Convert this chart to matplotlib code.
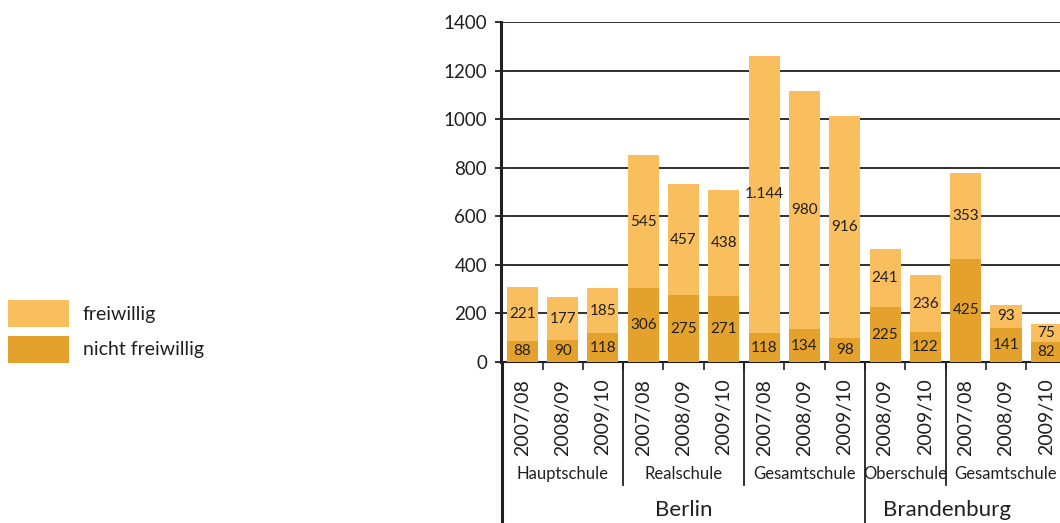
import matplotlib.pyplot as plt
import matplotlib.transforms as mtransforms
from matplotlib.patches import Patch
import numpy as np

plt.rcParams['font.family'] = ['Lato', 'DejaVu Sans']

# data
years = ['2007/08', '2008/09', '2009/10',
         '2007/08', '2008/09', '2009/10',
         '2007/08', '2008/09', '2009/10',
         '2008/09', '2009/10',
         '2007/08', '2008/09', '2009/10']
nicht_freiwillig = [88, 90, 118, 306, 275, 271, 118, 134, 98, 225, 122, 425, 141, 82]
freiwillig = [221, 177, 185, 545, 457, 438, 1144, 980, 916, 241, 236, 353, 93, 75]
school_types = ['Hauptschule', 'Realschule', 'Gesamtschule', 'Oberschule', 'Gesamtschule']
group_sizes = [3, 3, 3, 2, 3]
regions = ['Berlin', 'Brandenburg']

light = '#f9be5e'
dark = '#e4a22c'
ink = '#231f20'


def fmt(v):
    return f'{v:,}'.replace(',', '.')


fig = plt.figure(figsize=(10.6, 5.23), dpi=100)
ax = fig.add_axes([501 / 1060, 1 - 362 / 523, 1 - 501 / 1060, 340 / 523])

x = np.arange(len(years))
w = 0.77
ax.bar(x, nicht_freiwillig, w, color=dark, zorder=3)
ax.bar(x, freiwillig, w, bottom=nicht_freiwillig, color=light, zorder=3)

for xi, n, f in zip(x, nicht_freiwillig, freiwillig):
    ax.text(xi, n / 2, fmt(n), ha='center', va='center', fontsize=11, color=ink, zorder=4)
    ax.text(xi, n + f / 2, fmt(f), ha='center', va='center', fontsize=11, color=ink, zorder=4)

ax.set_xlim(-0.53, 13.34)
ax.set_ylim(0, 1400)
ax.set_yticks(range(0, 1401, 200))
ax.yaxis.grid(True, color=ink, linewidth=1.3, zorder=1)
ax.tick_params(axis='y', labelsize=13.5, colors=ink, length=4, width=1.3, pad=6)

ax.set_xticks(x)
ax.set_xticklabels(years, rotation=90, va='top')
ax.tick_params(axis='x', which='major', length=0, labelsize=14, colors=ink, pad=12)
ax.set_xticks(np.arange(0.5, len(years) - 1, 1.0), minor=True)
ax.tick_params(axis='x', which='minor', length=5.5, width=1.2, color=ink)

for s in ['top', 'right']:
    ax.spines[s].set_visible(False)
ax.spines['left'].set_linewidth(2.2)
ax.spines['left'].set_color(ink)
ax.spines['bottom'].set_linewidth(1.5)
ax.spines['bottom'].set_color(ink)

# category axis structure below the bars
trans = mtransforms.blended_transform_factory(ax.transData, ax.transAxes)
bounds = np.cumsum([0] + group_sizes) - 0.5
for i, b in enumerate(bounds[:-1]):
    bottom = -0.474 if i in (0, 3) else -0.362
    lw = 2.2 if i == 0 else 1.3
    ax.plot([b, b], [0, bottom], transform=trans, color=ink, lw=lw, clip_on=False)
    start, end = b, bounds[i + 1]
    ax.text((start + end) / 2, -0.329, school_types[i], transform=trans,
            ha='center', va='center', fontsize=12, color=ink)

ax.text(4, -0.435, regions[0], transform=trans, ha='center', va='center', fontsize=16, color=ink)
ax.text(10.53, -0.435, regions[1], transform=trans, ha='center', va='center', fontsize=16, color=ink)

handles = [Patch(facecolor=light, label='freiwillig'),
           Patch(facecolor=dark, label='nicht freiwillig')]
fig.legend(handles=handles, loc='upper left', bbox_to_anchor=(8 / 1060, 1 - 300 / 523),
           frameon=False, borderpad=0, borderaxespad=0, fontsize=14,
           handlelength=3.15, handleheight=1.75, labelspacing=0.45, handletextpad=0.7,
           labelcolor=ink)

fig.savefig('out.png', dpi=100)
